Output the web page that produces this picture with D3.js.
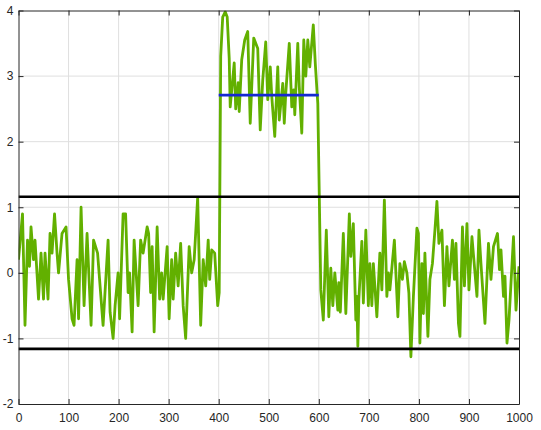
<!DOCTYPE html>
<html>
<head>
<meta charset="utf-8">
<script src="https://cdn.jsdelivr.net/npm/d3@7"></script>
<style>
  body { margin: 0; background: #fff; }
  svg { display: block; }
</style>
</head>
<body>
<svg id="chart"></svg>
<script>
// sample positions and signal values (turning points)
const sampleIdx = [
  0, 8, 13, 18, 22, 25, 30, 33, 40, 45, 50, 53, 59, 63, 67, 72, 77, 80, 87, 95,
  100, 107, 111, 117, 120, 125, 131, 137, 145, 150, 158, 169, 179, 183, 189, 193, 199,
  202, 209, 214, 219, 222, 227, 231, 239, 244, 249, 257, 260, 264, 267, 271, 277, 282,
  286, 289, 297, 301, 306, 309, 314, 319, 324, 329, 334, 341, 346, 351, 358, 364, 369,
  374, 379, 382, 386, 392, 398,
  401, 404, 408, 413, 417, 421, 423, 431, 434, 439, 441, 446, 452, 458, 463, 470, 478,
  483, 488, 494, 498, 503, 506, 512, 518, 521, 528, 531, 534, 541, 546, 550, 552, 558,
  561, 566, 570, 574, 578, 582, 589, 593, 598,
  604, 609, 615, 620, 624, 628, 632, 638, 640, 643, 649, 654, 661, 664, 669, 674, 676,
  678, 680, 686, 689, 694, 699, 702, 706, 709, 716, 722, 726, 731, 736, 739, 742, 751,
  758, 762, 767, 771, 776, 780, 784, 789, 796, 799,
  802, 806, 809, 812, 818, 822, 827, 832, 836, 840, 846, 851, 856, 860, 867, 871, 874,
  879, 882, 887, 891, 896, 900, 906, 916, 920, 924, 932, 939, 944, 949, 957, 961, 964,
  969, 972, 976, 980, 989, 994, 1000
];
const signal = [
  0.2, 0.9, -0.8, 0.5, 0.1, 0.7, 0.2, 0.5, -0.4, 0.3, -0.4, 0.3, -0.4, 0.6, 0.3, 0.9, 0.3, 0, 0.6, 0.7,
  -0.1, -0.7, -0.8, 0.2, -0.7, 1.0, -0.5, 0.6, -0.8, 0.5, 0.3, -0.8, 0.5, -0.6, -1.0, -0.5, 0,
  -0.7, 0.9, 0.9, -0.3, 0, -0.9, 0.5, -0.5, 0.5, 0.3, 0.7, 0.6, -0.3, 0.4, -0.9, 0.7, -0.4,
  0, -0.4, 0.4, -0.7, 0.2, -0.4, 0.3, -0.2, 0.45, -0.5, -1.0, 0.4, 0, 0.2, 1.15, -0.8, 0.2,
  -0.2, 0.5, -0.1, 0.35, 0.3, -0.5,
  -0.3, 3.3, 3.9, 3.98, 3.9, 3.27, 2.53, 3.2, 2.5, 2.9, 2.46, 3.25, 3.55, 3.68, 2.28, 3.58, 3.42,
  2.18, 2.94, 3.52, 2.64, 3.14, 2.69, 2.08, 3.14, 2.33, 2.89, 2.28, 2.74, 3.5, 2.53, 2.79, 2.41, 3.5,
  2.84, 2.13, 3.55, 3.0, 3.55, 3.14, 3.78, 3.19, 2.58,
  -0.26, -0.72, 0.65, -0.67, 0.07, -0.5, 0, -0.57, -0.15, -0.6, 0.6, -0.62, 0.9, 0.25, 0.75, -0.72, -0.36,
  -1.12, -0.41, 0.48, -0.46, 0.65, -0.5, 0.14, -0.5, 0.14, -0.67, 0.3, -0.26, 1.11, -0.36, 0, -0.26, 0.5,
  -0.67, 0.14, -0.1, 0.17, 0, -0.31, -1.28, -0.36, 0.68, 0.6,
  -1.07, 0.14, -0.62, 0.3, -0.97, -0.1, 0.14, 0.65, 1.09, 0.45, 0.65, -0.5, 0.4, -0.2, 0.5, -0.1, 0.45,
  -0.77, -0.97, 0.7, -0.2, 0.75, -0.26, 0.55, -0.36, 0.65, 0.14, -0.77, 0.45, -0.1, 0.4, 0.6, 0.05, 0.35,
  -0.36, -0.05, -1.07, -0.72, 0.55, -0.57, 0.1
];
const thresholds = [1.16, -1.16];
const meanLevel = 2.71;
const meanSpan = [400, 600];
const xTicks = [0, 100, 200, 300, 400, 500, 600, 700, 800, 900, 1000];
const yTicks = [-2, -1, 0, 1, 2, 3, 4];

const width = 541;
const height = 430;
const box = { left: 18.5, right: 519, top: 10.5, bottom: 404 };

const svg = d3.select("#chart")
  .attr("width", width)
  .attr("height", height)
  .style("font-family", "'Liberation Sans', Arial, sans-serif");

const x = d3.scaleLinear().domain([0, 1000]).range([box.left, box.right]);
const y = d3.scaleLinear().domain([-2, 4]).range([box.bottom, box.top]);

svg.append("defs").append("clipPath").attr("id", "plot-clip")
  .append("rect")
  .attr("x", box.left).attr("y", box.top)
  .attr("width", box.right - box.left).attr("height", box.bottom - box.top);

// grid
const grid = svg.append("g").attr("stroke", "#dfdfdf").attr("stroke-width", 1);
grid.selectAll(".vx").data(xTicks.slice(1, -1)).join("line")
  .attr("x1", d => x(d)).attr("x2", d => x(d))
  .attr("y1", box.top).attr("y2", box.bottom);
grid.selectAll(".hy").data(yTicks.slice(1, -1)).join("line")
  .attr("x1", box.left).attr("x2", box.right)
  .attr("y1", d => y(d)).attr("y2", d => y(d));

const plot = svg.append("g").attr("clip-path", "url(#plot-clip)");

const points = sampleIdx.map((s, i) => [s, signal[i]]);
const line = d3.line().x(d => x(d[0])).y(d => y(d[1]));

plot.append("path")
  .datum(points)
  .attr("d", line)
  .attr("fill", "none")
  .attr("stroke", "#62b000")
  .attr("stroke-width", 2.8)
  .attr("stroke-linejoin", "round");

plot.selectAll(".thr").data(thresholds).join("line")
  .attr("x1", x(0)).attr("x2", x(1000))
  .attr("y1", d => y(d)).attr("y2", d => y(d))
  .attr("stroke", "#000")
  .attr("stroke-width", 2.6);

plot.append("line")
  .attr("x1", x(meanSpan[0])).attr("x2", x(meanSpan[1]))
  .attr("y1", y(meanLevel)).attr("y2", y(meanLevel))
  .attr("stroke", "#1428d2")
  .attr("stroke-width", 2.6);

// axes, MATLAB style: ticks inside, box on
function styleAxis(g) {
  g.select(".domain").attr("stroke", "#262626");
  g.selectAll(".tick line").attr("stroke", "#262626");
  g.selectAll(".tick text").attr("fill", "#262626").attr("font-size", 12);
}

const plain = d => String(d);

svg.append("g")
  .attr("transform", `translate(0,${box.bottom})`)
  .call(d3.axisBottom(x).tickValues(xTicks).tickFormat(plain)
    .tickSizeInner(-5).tickSizeOuter(0).tickPadding(9))
  .call(styleAxis);

svg.append("g")
  .attr("transform", `translate(${box.left},0)`)
  .call(d3.axisLeft(y).tickValues(yTicks).tickFormat(plain)
    .tickSizeInner(-5).tickSizeOuter(0).tickPadding(5))
  .call(styleAxis);

svg.append("g")
  .attr("transform", `translate(0,${box.top})`)
  .call(d3.axisTop(x).tickValues(xTicks).tickSizeInner(-5).tickSizeOuter(0).tickFormat(""))
  .call(styleAxis);

svg.append("g")
  .attr("transform", `translate(${box.right},0)`)
  .call(d3.axisRight(y).tickValues(yTicks).tickSizeInner(-5).tickSizeOuter(0).tickFormat(""))
  .call(styleAxis);
</script>
</body>
</html>
